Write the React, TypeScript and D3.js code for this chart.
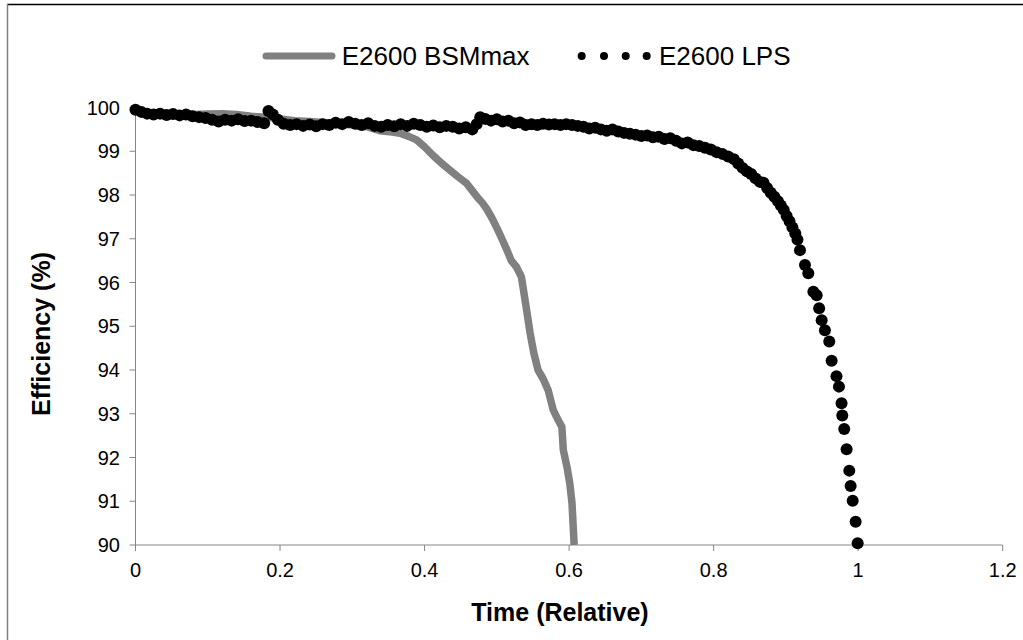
import React from "react";
import * as d3 from "d3";

const xTicks = [0, 0.2, 0.4, 0.6, 0.8, 1, 1.2];
const yTicks = [90, 91, 92, 93, 94, 95, 96, 97, 98, 99, 100];
const seriesNames = ["E2600 BSMmax", "E2600 LPS"];

const bsmX = [0, 0.02, 0.05, 0.08, 0.1, 0.12, 0.14, 0.16, 0.18, 0.2, 0.22, 0.24, 0.26, 0.28, 0.3, 0.32, 0.338, 0.355, 0.366, 0.378, 0.389, 0.4, 0.412, 0.424, 0.435, 0.446, 0.458, 0.466, 0.473, 0.48, 0.486, 0.493, 0.5, 0.507, 0.514, 0.52, 0.527, 0.534, 0.54, 0.546, 0.551, 0.557, 0.564, 0.571, 0.578, 0.585, 0.59, 0.592, 0.597, 0.601, 0.604, 0.607];
const bsmY = [99.92, 99.88, 99.86, 99.84, 99.85, 99.86, 99.84, 99.8, 99.78, 99.74, 99.7, 99.68, 99.66, 99.63, 99.6, 99.56, 99.47, 99.44, 99.41, 99.34, 99.26, 99.1, 98.9, 98.72, 98.57, 98.42, 98.27, 98.1, 97.95, 97.82, 97.68, 97.48, 97.25, 97.0, 96.74, 96.5, 96.36, 96.13, 95.5, 94.85, 94.4, 94.0, 93.8, 93.54, 93.09, 92.85, 92.7, 92.17, 91.79, 91.4, 90.96, 90.0];

const lpsX = [0, 0.008, 0.016, 0.025, 0.034, 0.043, 0.052, 0.061, 0.07, 0.079, 0.088, 0.097, 0.106, 0.115, 0.124, 0.133, 0.142, 0.151, 0.16, 0.169, 0.178, 0.184, 0.19, 0.197, 0.205, 0.214, 0.223, 0.232, 0.241, 0.25, 0.259, 0.268, 0.277, 0.286, 0.295, 0.304, 0.313, 0.322, 0.331, 0.34, 0.349, 0.358, 0.367, 0.376, 0.385, 0.394, 0.403, 0.412, 0.421, 0.43, 0.439, 0.448, 0.457, 0.466, 0.472, 0.477, 0.484, 0.492, 0.5, 0.508, 0.516, 0.524, 0.532, 0.54, 0.548, 0.556, 0.564, 0.572, 0.58, 0.588, 0.596, 0.604, 0.612, 0.62, 0.628, 0.636, 0.644, 0.652, 0.66, 0.668, 0.676, 0.684, 0.692, 0.7, 0.708, 0.716, 0.724, 0.732, 0.74, 0.748, 0.756, 0.764, 0.772, 0.78, 0.788, 0.796, 0.804, 0.812, 0.82, 0.828, 0.834, 0.84, 0.846, 0.852, 0.858, 0.864, 0.869, 0.874, 0.879, 0.884, 0.889, 0.893, 0.897, 0.901, 0.905, 0.909, 0.913, 0.916, 0.9195, 0.9264, 0.931, 0.938, 0.9426, 0.946, 0.9495, 0.954, 0.96, 0.9633, 0.97, 0.9734, 0.977, 0.978, 0.9807, 0.984, 0.9877, 0.9896, 0.9924, 0.9965, 0.9993];
const lpsY = [99.95, 99.9, 99.86, 99.84, 99.86, 99.83, 99.85, 99.82, 99.84, 99.8, 99.78, 99.76, 99.72, 99.68, 99.72, 99.7, 99.73, 99.69, 99.7, 99.67, 99.64, 99.92, 99.84, 99.72, 99.63, 99.6, 99.62, 99.58, 99.61, 99.57, 99.62, 99.6, 99.65, 99.62, 99.67, 99.63, 99.6, 99.64, 99.58, 99.56, 99.6, 99.57, 99.62, 99.58, 99.63, 99.6, 99.56, 99.59, 99.55, 99.58, 99.56, 99.52, 99.55, 99.5, 99.62, 99.78, 99.74, 99.7, 99.73, 99.68, 99.7, 99.64, 99.66, 99.6, 99.62, 99.6, 99.63, 99.61, 99.62, 99.6, 99.62, 99.6, 99.58, 99.56, 99.52, 99.54, 99.5, 99.47, 99.5, 99.45, 99.42, 99.4, 99.38, 99.35, 99.36, 99.32, 99.33, 99.28, 99.3, 99.24, 99.18, 99.2, 99.14, 99.12, 99.08, 99.04, 98.98, 98.94, 98.88, 98.82, 98.72, 98.62, 98.54, 98.48, 98.38, 98.3, 98.28, 98.16, 98.05, 97.96, 97.86, 97.76, 97.66, 97.52, 97.4, 97.26, 97.12, 96.98, 96.74, 96.4, 96.21, 95.79, 95.71, 95.41, 95.14, 94.91, 94.65, 94.21, 93.86, 93.62, 93.24, 92.96, 92.65, 92.19, 91.7, 91.35, 91.01, 90.53, 90.04];

const W = 1023;
const H = 640;
const FONT = "Arial, 'Liberation Sans', sans-serif";

export default function App() {
  const x = d3.scaleLinear().domain([0, 1.2]).range([135.5, 1002.7]);
  const y = d3.scaleLinear().domain([90, 100]).range([545, 107.5]);
  const line = d3
    .line<number>()
    .x((_, i) => x(bsmX[i]))
    .y((d) => y(d))
    .curve(d3.curveLinear);
  const axisColor = "#868686";
  const legendDots = [581.7, 604, 625.7, 646.7];

  return (
    <svg
      width={W}
      height={H}
      style={{ position: "absolute", left: 0, top: 0, background: "#fff" }}
      fontFamily={FONT}
    >
      <rect x={0} y={0} width={W} height={H} fill="#fff" />
      {/* frame */}
      <line x1={7} x2={W} y1={4.5} y2={4.5} stroke="#000" strokeWidth={1.5} />
      <line x1={7.5} x2={7.5} y1={4} y2={H} stroke="#808080" strokeWidth={1.5} />

      {/* axes */}
      <line x1={x(0)} x2={x(0)} y1={y(100)} y2={y(90)} stroke={axisColor} strokeWidth={1} />
      <line x1={x(0)} x2={x(1.2)} y1={y(90)} y2={y(90)} stroke={axisColor} strokeWidth={1} />
      {yTicks.map((t) => (
        <g key={"y" + t}>
          <line x1={x(0) - 6} x2={x(0)} y1={y(t)} y2={y(t)} stroke={axisColor} />
          <text x={120} y={y(t)} dy="0.35em" textAnchor="end" fontSize={20} fill="#000">
            {t}
          </text>
        </g>
      ))}
      {xTicks.map((t) => (
        <g key={"x" + t}>
          <line x1={x(t)} x2={x(t)} y1={y(90)} y2={y(90) + 6} stroke={axisColor} />
          <text x={x(t)} y={577} textAnchor="middle" fontSize={20} fill="#000">
            {String(t)}
          </text>
        </g>
      ))}

      {/* series */}
      <path d={line(bsmY) || ""} fill="none" stroke="#808080" strokeWidth={7.5} strokeLinejoin="round" strokeLinecap="butt" />
      {lpsY.map((v, i) => (
        <circle key={"p" + i} cx={x(lpsX[i])} cy={y(v)} r={6} fill="#000" />
      ))}

      {/* axis titles */}
      <text x={560} y={621} textAnchor="middle" fontSize={25} fontWeight="bold" fill="#000">
        Time (Relative)
      </text>
      <text
        transform={`translate(50, 334) rotate(-90)`}
        textAnchor="middle"
        fontSize={25}
        fontWeight="bold"
        fill="#000"
      >
        Efficiency (%)
      </text>

      {/* legend */}
      <line x1={266} x2={332} y1={56} y2={56} stroke="#808080" strokeWidth={7} strokeLinecap="round" />
      <text x={341.7} y={65} fontSize={26} fill="#000">
        {seriesNames[0]}
      </text>
      {legendDots.map((d) => (
        <circle key={"l" + d} cx={d} cy={56} r={4} fill="#000" />
      ))}
      <text x={659} y={65} fontSize={26} fill="#000">
        {seriesNames[1]}
      </text>
    </svg>
  );
}
